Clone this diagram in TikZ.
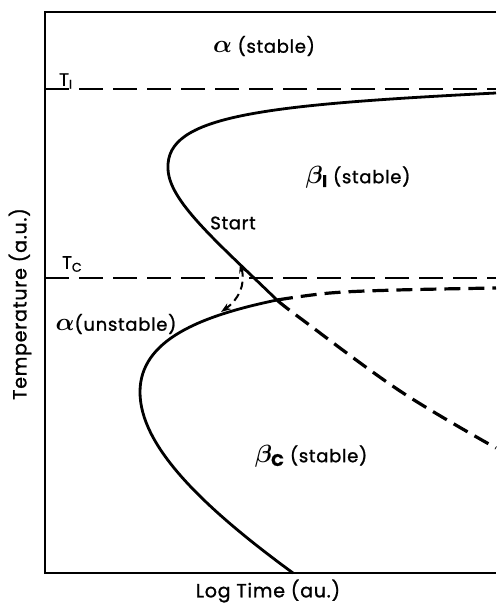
\documentclass[tikz,border=0pt]{standalone}
\usepackage{fontspec}
\setmainfont{Poppins}[LetterSpace=4, FakeBold=1.2]
\usetikzlibrary{arrows.meta}
\newcommand{\gk}[1]{{\fontsize{24}{24}\selectfont\boldmath$#1$}}
\begin{document}
\begin{tikzpicture}[x=1pt,y=-1pt,
  lbl/.style={font=\fontsize{18}{21}\selectfont, inner sep=0pt},
  axlbl/.style={font=\fontsize{19}{22}\selectfont, inner sep=0pt},
  tlbl/.style={font=\fontsize{18}{20}\selectfont, inner sep=0pt},
  frame/.style={line width=1.8pt},
  solidcurve/.style={line width=2.8pt, line join=round},
  isoline/.style={line width=1.6pt, dash pattern=on 24pt off 10pt},
  dashcurve/.style={line width=3.2pt, dash pattern=on 16pt off 8pt},
  arcstyle/.style={line width=2pt, dash pattern=on 8pt off 5pt, {Stealth[length=10pt,width=7pt]}-{Stealth[length=10pt,width=7pt]}}]
\useasboundingbox (0,0) rectangle (496,605);
% frame
\coordinate (tl) at (45,12);
\coordinate (tr) at (496,12);
\coordinate (bl) at (45,573);
\coordinate (br) at (496,573);
\draw[frame] (tr) -- (tl) -- (bl) -- (br);
% isotherms
\coordinate (tiL) at (45,89);
\coordinate (tiR) at (496,89);
\coordinate (tcL) at (45,278);
\coordinate (tcR) at (496,278);
\draw[isoline] (tiL) -- (tiR);
\draw[isoline] (tcL) -- (tcR);
% vertex and curve anchors
\coordinate (v) at (277,300);
\coordinate (u0) at (496,93);
\coordinate (un) at (168,168);
\coordinate (ln) at (140,392);
\coordinate (l1) at (293,573);
% upper C curve
\draw[solidcurve] (u0) .. controls (260,105) and (166,116) .. (un)
  .. controls (168,200) and (215,240) .. (v);
% lower C curve
\draw[solidcurve] (v) .. controls (200,316) and (140,340) .. (ln)
  .. controls (140,445) and (200,505) .. (l1);
% dashed continuation
\draw[dashcurve] plot[smooth, tension=0.6] coordinates {(v) (330,293) (397,290) (496,288)};
\draw[dashcurve] plot[smooth, tension=0.6] coordinates {(v) (300,318) (400,391) (496,448)};
% small arc
\coordinate (a1) at (240,263);
\coordinate (a2) at (221,312);
\draw[arcstyle] (a1) .. controls (246,285) and (238,300) .. (a2);
% labels
\node[lbl] (as) at (264,46) {\gk{\alpha} (stable)};
\node[tlbl, anchor=west] (ti) at (59,81) {T$_{\mathrm{I}}$};
\node[tlbl, anchor=west] (tc) at (62,264) {T$_{\mathrm{C}}$};
\node[lbl] (bi) at (358,177) {\gk{\beta_{\mathrm{I}}} (stable)};
\node[lbl] (st) at (233,223) {Start};
\node[lbl] (au) at (116,324) {\gk{\alpha}(unstable)};
\node[lbl] (bc) at (311,456) {\gk{\beta_{\mathrm{C}}} (stable)};
\node[axlbl, rotate=90] (yl) at (20,304) {Temperature (a.u.)};
\node[axlbl] (xl) at (268,591) {Log Time (au.)};
\end{tikzpicture}
\end{document}
